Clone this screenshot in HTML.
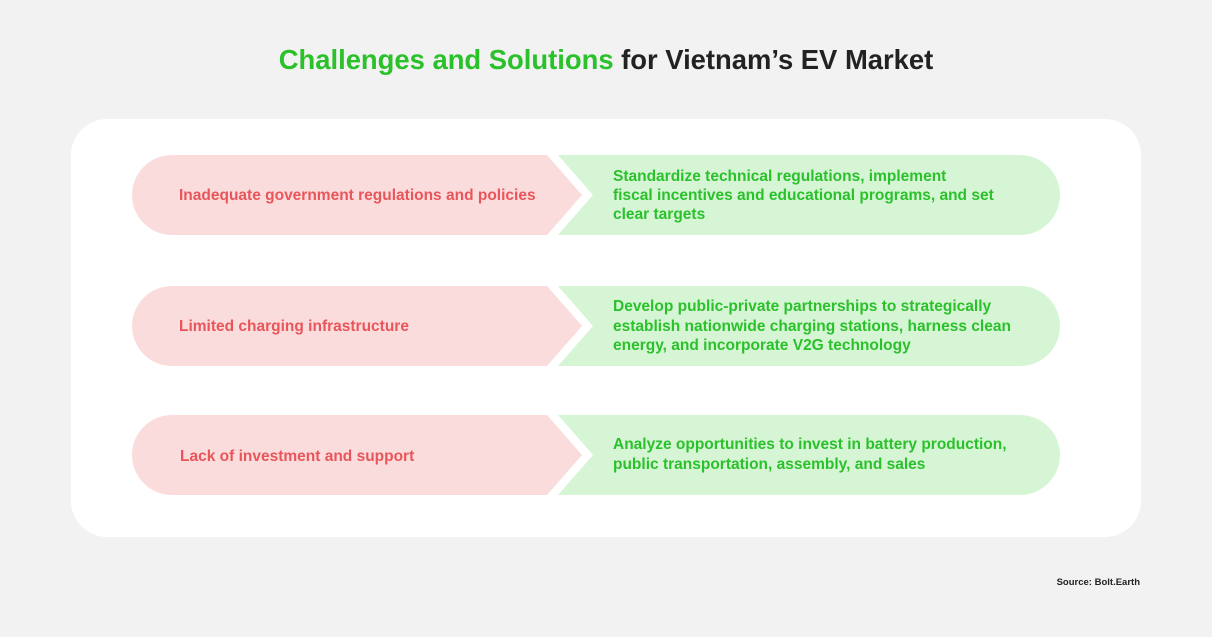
<!DOCTYPE html>
<html><head><style>
body{margin:0;width:1212px;height:632px;background:#f2f2f2;font-family:"Liberation Sans",sans-serif;overflow:hidden}
</style></head><body>
<svg width="1212" height="632" xmlns="http://www.w3.org/2000/svg" font-family="Liberation Sans, sans-serif" font-weight="bold">
<text x="606" y="69" text-anchor="middle" font-size="27.4" fill="#222">
<tspan fill="#2bc12b">Challenges and Solutions</tspan> for Vietnam’s EV Market</text>
<rect x="71" y="119" width="1070" height="418" rx="36" fill="#fff"/>
<g id="r">
<path d="M172,155 H547 L582,195 L547,235 H172 A40,40 0 0 1 172,155 Z" fill="#fbdcdc"/>
<path d="M558,155 H1020 A40,40 0 0 1 1020,235 H558 L593,195 Z" fill="#d5f5d5"/>
</g>
<use href="#r" y="131"/>
<use href="#r" y="260"/>
<g font-size="15.5" fill="#e8555a">
<text x="179" y="200">Inadequate government regulations and policies</text>
<text x="179" y="331">Limited charging infrastructure</text>
<text x="180" y="461">Lack of investment and support</text>
</g>
<g font-size="15.5" fill="#2bc12b">
<text x="613" y="181">Standardize technical regulations, implement</text>
<text x="613" y="200">fiscal incentives and educational programs, and set</text>
<text x="613" y="219">clear targets</text>
<text x="613" y="311">Develop public-private partnerships to strategically</text>
<text x="613" y="331">establish nationwide charging stations, harness clean</text>
<text x="613" y="350">energy, and incorporate V2G technology</text>
<text x="613" y="449">Analyze opportunities to invest in battery production,</text>
<text x="613" y="469">public transportation, assembly, and sales</text>
</g>
<text x="1140" y="585" text-anchor="end" font-size="9.5" fill="#222">Source: Bolt.Earth</text>
</svg>
</body></html>
